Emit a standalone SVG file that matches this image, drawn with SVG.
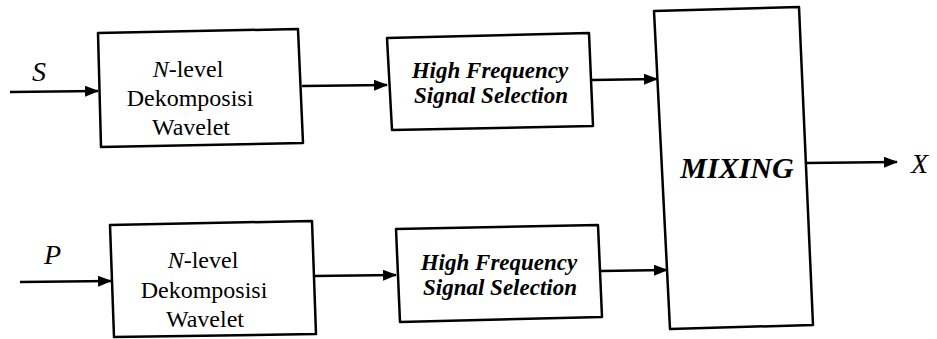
<svg xmlns="http://www.w3.org/2000/svg" width="937" height="339" viewBox="0 0 937 339">
<style>
.box{fill:#fff;stroke:#000;stroke-width:2.5;stroke-linejoin:round}
.ln{fill:none;stroke:#000;stroke-width:2.5}
.t{font-family:"Liberation Serif","Times New Roman",serif;font-size:24px;fill:#000;text-anchor:middle}
.hf{font-family:"Liberation Serif","Times New Roman",serif;font-size:23px;font-weight:bold;font-style:italic;fill:#000;text-anchor:middle}
.lab{font-family:"Liberation Serif","Times New Roman",serif;font-size:28px;font-style:italic;fill:#000}
</style>
<defs>
<marker id="ah" viewBox="0 0 14 11" refX="13" refY="5.5" markerWidth="14" markerHeight="11" markerUnits="userSpaceOnUse" orient="auto">
<path d="M0,0 L14,5.5 L0,11 Z" fill="#000"/>
</marker>
</defs>
<g id="connectors">
<line class="ln" x1="10" y1="92" x2="98" y2="91" marker-end="url(#ah)"/>
<line class="ln" x1="302" y1="86" x2="387" y2="85" marker-end="url(#ah)"/>
<line class="ln" x1="592" y1="80" x2="657" y2="79" marker-end="url(#ah)"/>
<line class="ln" x1="20" y1="282" x2="111" y2="281" marker-end="url(#ah)"/>
<line class="ln" x1="313" y1="276" x2="396" y2="275" marker-end="url(#ah)"/>
<line class="ln" x1="601" y1="271" x2="667" y2="270" marker-end="url(#ah)"/>
<line class="ln" x1="806" y1="163" x2="897" y2="162" marker-end="url(#ah)"/>
</g>
<g id="S"><text class="lab" x="32" y="81">S</text></g>
<g id="P"><text class="lab" x="44" y="264">P</text></g>
<g id="X"><text class="lab" x="911" y="173">X</text></g>
<g id="decomp1">
<polygon class="box" points="98,33 298,29 303,143 101,147"/>
<text class="t" x="188" y="77"><tspan font-style="italic">N</tspan>-level</text>
<text class="t" x="190" y="106">Dekomposisi</text>
<text class="t" x="191" y="135">Wavelet</text>
</g>
<g id="hf1">
<polygon class="box" points="387,38 589,33 593,126 392,130"/>
<text class="hf" x="490" y="78">High Frequency</text>
<text class="hf" x="491" y="103">Signal Selection</text>
</g>
<g id="decomp2">
<polygon class="box" points="110,225 312,221 316,334 114,337"/>
<text class="t" x="203" y="268"><tspan font-style="italic">N</tspan>-level</text>
<text class="t" x="204" y="298">Dekomposisi</text>
<text class="t" x="205" y="327">Wavelet</text>
</g>
<g id="hf2">
<polygon class="box" points="396,229 598,225 602,317 400,322"/>
<text class="hf" x="499" y="270">High Frequency</text>
<text class="hf" x="500" y="295">Signal Selection</text>
</g>
<g id="mixing">
<polygon class="box" points="654,11 799,7 813,325 670,329"/>
<text class="hf" x="737" y="178" style="font-size:30px">MIXING</text>
</g>
</svg>
